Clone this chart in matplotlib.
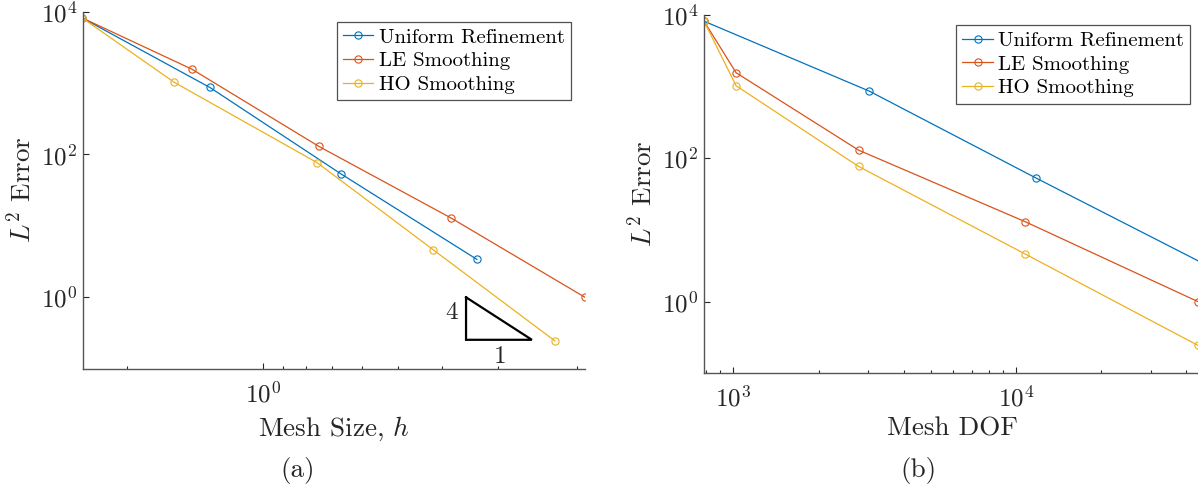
import numpy as np
import matplotlib
matplotlib.use('Agg')
import matplotlib.pyplot as plt
from matplotlib.ticker import LogLocator, FixedLocator, NullLocator, NullFormatter

plt.rcParams['font.family'] = ['cmr10']
plt.rcParams['mathtext.fontset'] = 'cm'
plt.rcParams['axes.formatter.use_mathtext'] = True

# ---------------- data ----------------
# (a) error vs mesh size h
h_uniform = [2.52, 1.31, 0.668, 0.334]
h_le      = [2.52, 1.436, 0.75, 0.382, 0.192]
h_ho      = [2.52, 1.574, 0.757, 0.417, 0.224]

# (b) error vs mesh DOF
dof_uniform = [787, 3020, 11770, 46000]
dof_le      = [787, 1022, 2773, 10790, 44000]
dof_ho      = [787, 1022, 2773, 10790, 44000]

err_uniform = [8200, 869, 53, 3.4]
err_le      = [8200, 1565, 130, 13.0, 1.0]
err_ho      = [8200, 1030, 77, 4.6, 0.245]

labels = ['Uniform Refinement', 'LE Smoothing', 'HO Smoothing']
colors = ['#0072BD', '#D95319', '#EDB120']

# slope triangle (order 4) in data coords of panel (a)
tri_x = [0.353, 0.353, 0.252, 0.353]
tri_y = [1.0, 0.254, 0.254, 1.0]

W, H = 1198, 488
fig = plt.figure(figsize=(W / 100, H / 100), dpi=100)

def px_box(x0, y0, x1, y1):
    """pixel box (top-left origin) -> figure fraction rect"""
    return [x0 / W, 1 - y1 / H, (x1 - x0) / W, (y1 - y0) / H]

ax1 = fig.add_axes(px_box(82.7, 11.7, 585, 368.7))
ax2 = fig.add_axes(px_box(704, 15, 1198, 373.3))

txt_col = '#262626'
line_kw = dict(marker='o', markerfacecolor='none', markersize=5.2,
               markeredgewidth=0.8, linewidth=0.9)

for xs, ys, lab, col in zip([h_uniform, h_le, h_ho],
                            [err_uniform, err_le, err_ho], labels, colors):
    ax1.plot(xs, ys, color=col, label=lab, **line_kw)

for xs, ys, lab, col in zip([dof_uniform, dof_le, dof_ho],
                            [err_uniform, err_le, err_ho], labels, colors):
    ax2.plot(xs, ys, color=col, label=lab, **line_kw)

ax1.plot(tri_x, tri_y, color='black', linewidth=1.6, solid_joinstyle='miter')
ax1.text(0.38, 0.61, '4', fontsize=18, color=txt_col, ha='center', va='center')
ax1.text(0.297, 0.148, '1', fontsize=18, color=txt_col, ha='center', va='center')

for ax in (ax1, ax2):
    ax.set_xscale('log')
    ax.set_yscale('log')
    ax.set_ylim(0.1, 1e4)
    ax.yaxis.set_major_locator(FixedLocator([1e0, 1e2, 1e4]))
    ax.yaxis.set_minor_locator(NullLocator())
    ax.xaxis.set_minor_locator(LogLocator(base=10, subs=np.arange(2, 10), numticks=20))
    ax.xaxis.set_minor_formatter(NullFormatter())
    for s in ('top', 'right'):
        ax.spines[s].set_visible(False)
    for s in ('left', 'bottom'):
        ax.spines[s].set_color('#555555')
        ax.spines[s].set_linewidth(1.0)
    ax.tick_params(which='both', direction='in', colors=txt_col, labelsize=18)
    ax.tick_params(which='major', length=4, width=0.8)
    ax.tick_params(which='minor', length=2.5, width=0.8)
    ax.tick_params(axis='x', pad=9)
    ax.tick_params(axis='y', pad=4)

ax1.set_xlim(2.512, 0.192)   # reversed axis
ax2.set_xlim(787, 44000)

leg_kw = dict(fontsize=15, frameon=True, fancybox=False, handlelength=1.45,
              handletextpad=0.25, labelspacing=0.25, borderpad=0.3,
              borderaxespad=0.0)
l1 = ax1.legend(loc='upper right', bbox_to_anchor=(0.9715, 0.972), **leg_kw)
l2 = ax2.legend(loc='upper right', bbox_to_anchor=(0.9838, 0.972), **leg_kw)
for lg in (l1, l2):
    lg.get_frame().set_edgecolor(txt_col)
    lg.get_frame().set_linewidth(0.9)
    for t in lg.get_texts():
        t.set_color('black')

# axis labels and sub-captions
lab_fs = 19.5
fig.text(334 / W, 1 - 429 / H, 'Mesh Size, $h$', fontsize=lab_fs, color=txt_col,
         ha='center', va='center')
fig.text(952 / W, 1 - 429 / H, 'Mesh DOF', fontsize=lab_fs, color=txt_col,
         ha='center', va='center')
fig.text(21 / W, 1 - 190 / H, '$L^2$ Error', fontsize=lab_fs, color=txt_col,
         ha='center', va='center', rotation=90)
fig.text(642 / W, 1 - 194 / H, '$L^2$ Error', fontsize=lab_fs, color=txt_col,
         ha='center', va='center', rotation=90)
fig.text(298 / W, 1 - 470 / H, '(a)', fontsize=lab_fs, color=txt_col,
         ha='center', va='center')
fig.text(918 / W, 1 - 470 / H, '(b)', fontsize=lab_fs, color=txt_col,
         ha='center', va='center')

plt.savefig('out.png', dpi=100)
plt.close()
